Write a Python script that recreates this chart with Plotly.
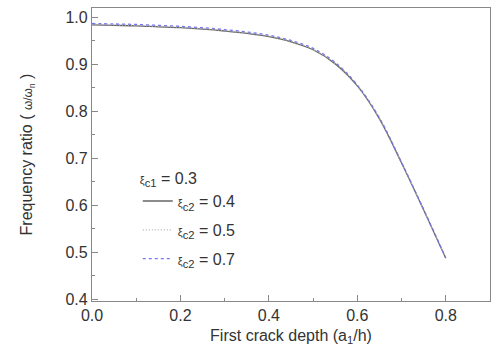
import plotly.graph_objects as go

x = [0.0, 0.05, 0.1, 0.15, 0.2, 0.25, 0.3, 0.35, 0.4, 0.45, 0.5, 0.55, 0.6, 0.65, 0.7, 0.75, 0.8]
y_04 = [0.984, 0.983, 0.982, 0.980, 0.978, 0.975, 0.971, 0.966, 0.959, 0.948, 0.931, 0.901, 0.854, 0.784, 0.690, 0.590, 0.487]
y_05 = [0.985, 0.984, 0.983, 0.981, 0.979, 0.976, 0.972, 0.967, 0.960, 0.949, 0.932, 0.902, 0.855, 0.785, 0.691, 0.590, 0.487]
y_07 = [0.987, 0.986, 0.985, 0.983, 0.981, 0.978, 0.974, 0.969, 0.962, 0.951, 0.934, 0.904, 0.856, 0.786, 0.691, 0.591, 0.488]

XI = "<span style='font-size:11px'>ξ</span>"
series = [
    (XI + "<sub>c2</sub> = 0.4", y_04, dict(color="#666666", width=1.3, dash="solid")),
    (XI + "<sub>c2</sub> = 0.5", y_05, dict(color="#b0b0b0", width=1.3, dash="1px,2px")),
    (XI + "<sub>c2</sub> = 0.7", y_07, dict(color="#7777ee", width=1.3, dash="3px,3px")),
]

fig = go.Figure()
for i, (name, ys, ln) in enumerate(series):
    fig.add_trace(go.Scatter(x=x, y=ys, mode="lines", name=name, line=ln,
                             line_shape="spline", legendgroup=f"g{i}"))

font = dict(family="Liberation Sans, Arial, sans-serif", size=16, color="#333333")
fig.update_layout(
    width=495, height=360,
    margin=dict(l=92, r=5, t=8, b=59),
    paper_bgcolor="white", plot_bgcolor="white",
    font=font,
    showlegend=True,
    legend=dict(
        x=0.115, y=0.47, xanchor="left", yanchor="top",
        bgcolor="rgba(0,0,0,0)",
        title=dict(text=XI + "<sub>c1</sub> = 0.3", font=font),
        font=font,
        tracegroupgap=5,
    ),
)
axis_common = dict(
    showline=True, linecolor="#888888", linewidth=1.2, mirror=True,
    ticks="inside", ticklen=6, tickcolor="#888888",
    showgrid=False, zeroline=False,
    tickfont=font,
)
fig.update_xaxes(
    range=[0, 0.9], tick0=0, dtick=0.2, tickformat=".1f",
    minor=dict(ticks="inside", ticklen=3, dtick=0.1, tickcolor="#888888"),
    title=dict(text="First crack depth (a<sub>1</sub>/h)", font=font, standoff=6),
    **axis_common,
)
fig.update_yaxes(
    range=[0.396, 1.02], tick0=0.4, dtick=0.1, tickformat=".1f",
    minor=dict(ticks="inside", ticklen=3, dtick=0.05, tickcolor="#888888"),
    title=dict(text="Frequency ratio ( <span style='font-size:12px'>ω/ω<sub>n</sub></span> )",
               font=font, standoff=28),
    **axis_common,
)
fig.write_html("out.html")
